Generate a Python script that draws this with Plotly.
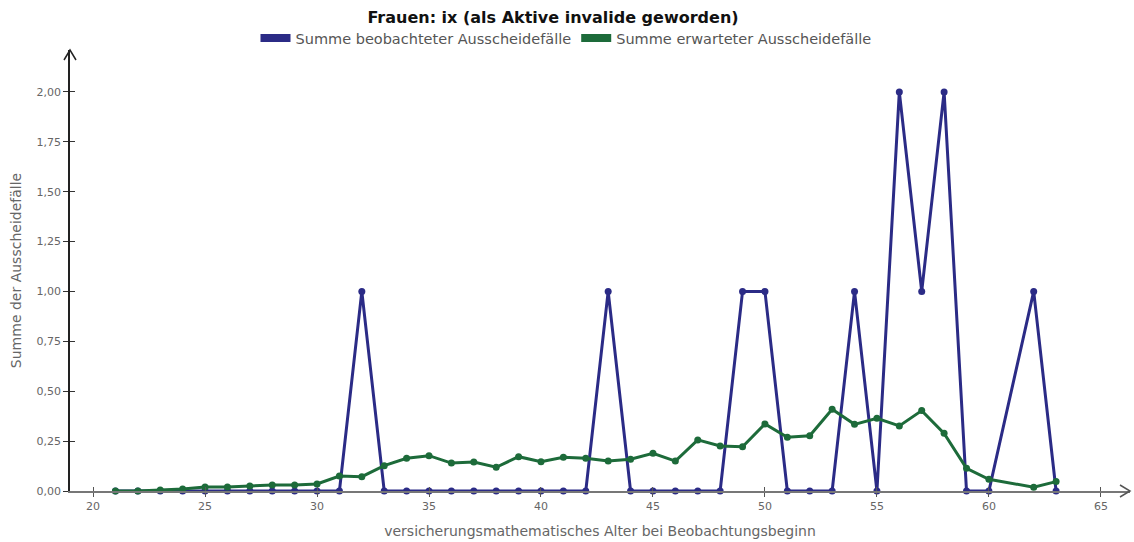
import plotly.graph_objects as go

ages = [21, 22, 23, 24, 25, 26, 27, 28, 29, 30, 31, 32, 33, 34, 35, 36, 37, 38, 39, 40,
        41, 42, 43, 44, 45, 46, 47, 48, 49, 50, 51, 52, 53, 54, 55, 56, 57, 58, 59, 60,
        62, 63]
beobachtet = [0, 0, 0, 0, 0, 0, 0, 0, 0, 0, 0, 1, 0, 0, 0, 0, 0, 0, 0, 0,
              0, 0, 1, 0, 0, 0, 0, 0, 1, 1, 0, 0, 0, 1, 0, 2, 1, 2, 0, 0,
              1, 0]
erwartet = [0.0, 0.0, 0.005, 0.01, 0.02, 0.02, 0.025, 0.03, 0.03, 0.035, 0.075, 0.072,
            0.127, 0.164, 0.177, 0.14, 0.145, 0.119, 0.172, 0.147, 0.169, 0.164, 0.15,
            0.159, 0.189, 0.15, 0.256, 0.226, 0.222, 0.336, 0.269, 0.277, 0.41, 0.334,
            0.364, 0.326, 0.403, 0.289, 0.114, 0.059, 0.019, 0.047]
names = ["Summe beobachteter Ausscheidefälle", "Summe erwarteter Ausscheidefälle"]
colors = ["#2b2b86", "#1d6b3a"]
x_ticks = [20, 25, 30, 35, 40, 45, 50, 55, 60, 65]
y_ticks = [0, 0.25, 0.5, 0.75, 1.0, 1.25, 1.5, 1.75, 2.0]

FONT = "'DejaVu Sans', sans-serif"
fig = go.Figure()
# observed on the main axes, expected on the overlay axes (same scale; drawn on top)
for series, name, col, xa, ya in zip([beobachtet, erwartet], names, colors, ["x", "x2"], ["y", "y2"]):
    fig.add_trace(go.Scatter(x=ages, y=series, mode="lines+markers", name=name,
                             line=dict(color=col, width=3), marker=dict(color=col, size=7),
                             cliponaxis=False, showlegend=False, xaxis=xa, yaxis=ya))
# legend glyphs (rectangles)
for name, col in zip(names, colors):
    fig.add_trace(go.Scatter(x=[None], y=[None], mode="lines", name=name,
                             line=dict(color=col, width=8), showlegend=True))

axis_common = dict(showgrid=False, zeroline=False, automargin=False,
                   tickfont=dict(size=11, color="#666666", family=FONT))
fig.update_layout(
    width=1134, height=542,
    paper_bgcolor="white", plot_bgcolor="white",
    margin=dict(l=70, r=4, t=50, b=51, autoexpand=False),
    font=dict(family=FONT, color="#555555"),
    title=dict(text="<b>Frauen: ix (als Aktive invalide geworden)</b>", x=553 / 1134, xanchor="center",
               y=1 - 17 / 542, yanchor="middle", font=dict(size=16, color="#111111", family=FONT)),
    legend=dict(orientation="h", x=(566 - 70) / 1060, xanchor="center", y=1.027, yanchor="middle",
                font=dict(size=14.5, color="#555555", family=FONT), itemwidth=30),
    xaxis=dict(range=[18.97, 66.3], tickvals=x_ticks, ticks="outside", ticklen=4,
               tickcolor="#555555", showline=True, linecolor="#777777", linewidth=1.5,
               title=dict(text="versicherungsmathematisches Alter bei Beobachtungsbeginn",
                          font=dict(size=14, color="#666666", family=FONT), standoff=14),
               **axis_common),
    yaxis=dict(range=[0, 2.21], tickvals=y_ticks, tickformat=".2f", ticks="outside", ticklen=5,
               tickcolor="#333333", showline=True, linecolor="#222222", linewidth=1.5,
               title=dict(text="Summe der Ausscheidefälle",
                          font=dict(size=14, color="#666666", family=FONT), standoff=12),
               **axis_common),
    xaxis2=dict(overlaying="x", range=[18.97, 66.3], tickvals=x_ticks,
                ticks="inside", ticklen=4, tickcolor="#555555", showticklabels=False,
                showgrid=False, zeroline=False, showline=False, side="bottom", automargin=False),
    yaxis2=dict(overlaying="y", range=[0, 2.21], tickvals=y_ticks,
                ticks="inside", ticklen=5, tickcolor="#333333", showticklabels=False,
                showgrid=False, zeroline=False, showline=False, side="left", automargin=False),
    separators=",.",
)
# arrowheads on axes
fig.add_shape(type="path", xref="paper", yref="paper", xsizemode="pixel", ysizemode="pixel",
              xanchor=0, yanchor=1, path="M -6 -10 L 0 0 L 6 -10",
              line=dict(color="#222222", width=1.5))
fig.add_shape(type="path", xref="paper", yref="paper", xsizemode="pixel", ysizemode="pixel",
              xanchor=1, yanchor=0, path="M -10 6 L 0 0 L -10 -6",
              line=dict(color="#555555", width=1.5))
fig.write_html("out.html", config={"displayModeBar": False},
               post_script="document.body.style.margin='0';")
